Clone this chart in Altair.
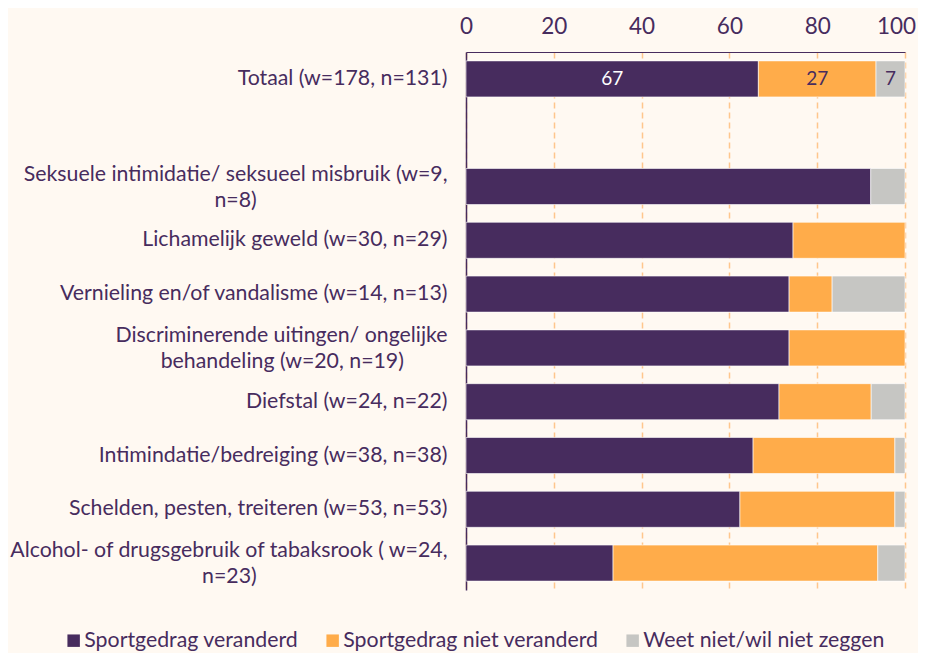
import altair as alt
import pandas as pd

NB = "\u00a0"
ZW = "\u200b"

categories = [
    "Totaal (w=178, n=131)",
    " ",
    "Seksuele intimidatie/ seksueel misbruik (w=9,|n=8)" + NB * 35 + ZW,
    "Lichamelijk geweld (w=30, n=29)",
    "Vernieling en/of vandalisme (w=14, n=13)",
    "Discriminerende uitingen/ ongelijke|behandeling (w=20, n=19)" + NB * 8 + ZW,
    "Diefstal (w=24, n=22)",
    "Intimindatie/bedreiging (w=38, n=38)",
    "Schelden, pesten, treiteren (w=53, n=53)",
    "Alcohol- of drugsgebruik of tabaksrook ( w=24,|n=23)" + NB * 35 + ZW,
]
series = ["Sportgedrag veranderd", "Sportgedrag niet veranderd", "Weet niet/wil niet zeggen"]
veranderd = [66.6, None, 92.2, 74.5, 73.6, 73.6, 71.3, 65.4, 62.4, 33.5]
niet_veranderd = [26.8, None, 0.0, 25.5, 9.8, 26.4, 21.0, 32.3, 35.3, 60.3]
weet_niet = [6.6, None, 7.8, 0.0, 16.6, 0.0, 7.7, 2.3, 2.3, 6.2]
colors = ["#472C5E", "#FFAC4A", "#C6C6C3"]
text_color = "#472C5E"

rows = []
for i, c in enumerate(categories):
    for j, (s, vals) in enumerate(zip(series, [veranderd, niet_veranderd, weet_niet])):
        v = vals[i]
        if v is not None and v > 0:
            rows.append({"cat": c, "series": s, "order": j, "value": v, "total": i == 0})
df = pd.DataFrame(rows)

FONT = "Lato"

y_enc = alt.Y(
    "cat:N",
    scale=alt.Scale(domain=categories, paddingInner=0.33, paddingOuter=0.165),
    axis=alt.Axis(
        title=None,
        labelExpr="split(datum.label, '|')",
        labelFontSize=21.3,
        labelLineHeight=26,
        labelOffset={"condition": {"test": "indexof(datum.value, '|') >= 0", "value": -12}, "value": 0},
        labelColor=text_color,
        labelFont=FONT,
        labelPadding=19,
        labelLimit=600,
        ticks=False,
        domainColor=text_color,
        domainWidth=1.5,
        grid=False,
    ),
)

x_enc = alt.X(
    "value:Q",
    stack="zero",
    scale=alt.Scale(domain=[0, 100], nice=False),
    axis=alt.Axis(
        orient="top",
        title=None,
        values=[0, 20, 40, 60, 80, 100],
        labelFontSize=22.5,
        labelOffset={"condition": {"test": "datum.value == 100", "value": -9}, "value": 0},
        labelColor=text_color,
        labelFont=FONT,
        labelPadding=14,
        labelFlush=False,
        ticks=False,
        domainColor=text_color,
        domainWidth=1.2,
        grid=True,
        gridColor="#FFC68C",
        gridDash=[6, 4],
        gridWidth=1.5,
    ),
)

bars = alt.Chart(df).mark_bar(stroke="#FFFFFF", strokeWidth=1, strokeOpacity=0.6).encode(
    y=y_enc,
    x=x_enc,
    color=alt.Color(
        "series:N",
        scale=alt.Scale(domain=series, range=colors),
        legend=alt.Legend(
            title=None,
            orient="none",
            direction="horizontal",
            legendX=-403,
            legendY=578,
            symbolType="square",
            symbolSize=155,
            symbolStrokeWidth=0,
            labelFontSize=21.3,
            labelFont=FONT,
            labelColor=text_color,
            labelOffset=0,
            columnPadding=23,
            labelLimit=400,
            padding=0,
        ),
    ),
    order=alt.Order("order:Q"),
)

labels = (
    alt.Chart(df)
    .transform_filter("datum.total")
    .transform_stack(stack="value", groupby=["cat"], as_=["x0", "x1"], sort=[alt.SortField("order")])
    .transform_calculate(mid="(datum.x0 + datum.x1) / 2")
    .mark_text(font=FONT, fontSize=19, baseline="middle")
    .encode(
        y=alt.Y("cat:N", scale=alt.Scale(domain=categories)),
        x=alt.X("mid:Q"),
        text=alt.Text("value:Q", format=".0f"),
        color=alt.condition("datum.order == 0", alt.value("#FFFFFF"), alt.value(text_color)),
    )
)

chart = (
    alt.layer(bars, labels)
    .properties(
        width=439,
        height=538,
        autosize=alt.AutoSizeParams(type="none"),
        padding={"left": 458, "top": 44, "right": 13, "bottom": 63},
        background="#FFF9F2",
    )
    .configure_view(stroke=None)
)

chart.save("out.html", embed_options={"renderer": "svg", "actions": False})
